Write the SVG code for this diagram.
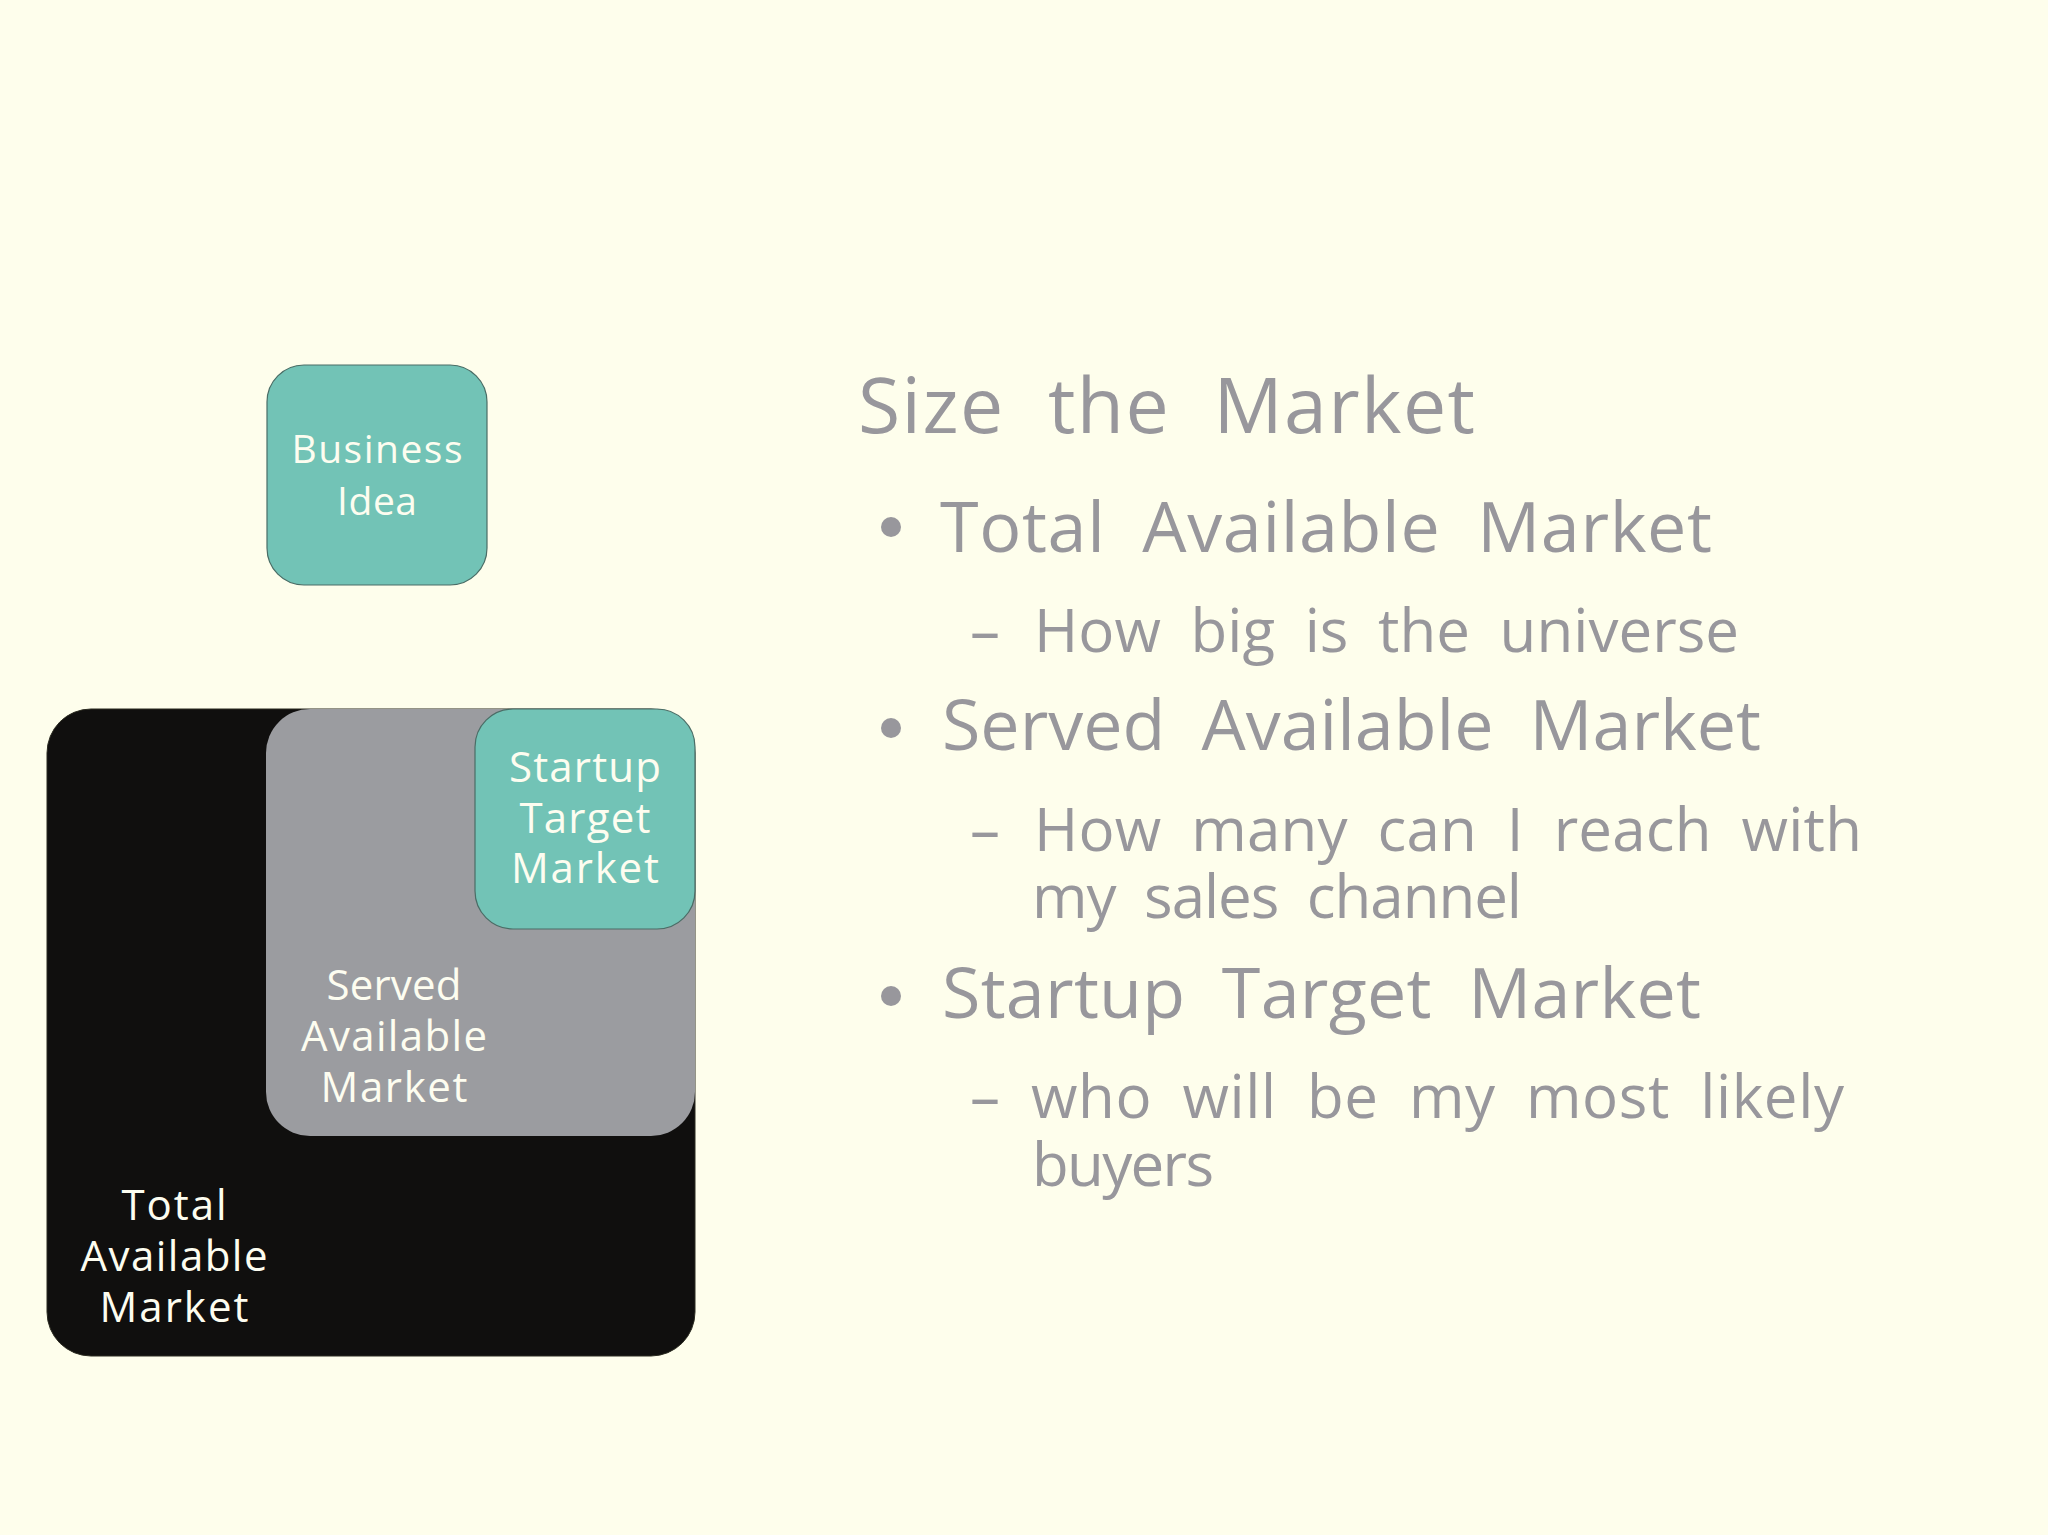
<svg xmlns="http://www.w3.org/2000/svg" width="2048" height="1535" viewBox="0 0 2048 1535">
<style>
.bg{fill:#fefeec}
.teal{fill:#72c3b6;stroke:#4a6d66;stroke-width:1.2}
.gray{fill:#9b9ca0}
.black{fill:#100f0e;stroke:#2a2a20;stroke-width:1}
.lbl{font-family:"Open Sans","Noto Sans","Liberation Sans",sans-serif;fill:#fdfdf0;text-anchor:middle}
.txt{font-family:"Open Sans","Noto Sans","Liberation Sans",sans-serif;fill:#98979c}
.t1{font-size:77px;word-spacing:22px}
.t2{font-size:70px;word-spacing:18px}
.t3{font-size:60px;word-spacing:14px}
.dot{fill:#98979c}
</style>
<rect class="bg" x="0" y="0" width="2048" height="1535"/>
<g id="business-idea">
<rect class="teal" x="267" y="365" width="220" height="220" rx="37"/>
<text class="lbl" font-size="39" x="377" y="463" textLength="171" lengthAdjust="spacing">Business</text>
<text class="lbl" font-size="39" x="377" y="515" textLength="80" lengthAdjust="spacing">Idea</text>
</g>
<g id="total-available-market">
<rect class="black" x="47" y="709" width="648" height="647" rx="44"/>
<text class="lbl" font-size="42" x="174" y="1220" textLength="105" lengthAdjust="spacing">Total</text>
<text class="lbl" font-size="42" x="174" y="1271" textLength="187" lengthAdjust="spacing">Available</text>
<text class="lbl" font-size="42" x="174" y="1322" textLength="149" lengthAdjust="spacing">Market</text>
</g>
<g id="served-available-market">
<rect class="gray" x="266" y="709" width="429" height="427" rx="44"/>
<text class="lbl" font-size="42" x="394" y="1000" textLength="135" lengthAdjust="spacing">Served</text>
<text class="lbl" font-size="42" x="394" y="1051" textLength="186" lengthAdjust="spacing">Available</text>
<text class="lbl" font-size="42" x="394" y="1102" textLength="147" lengthAdjust="spacing">Market</text>
</g>
<g id="startup-target-market">
<rect class="teal" x="475" y="709" width="220" height="220" rx="38"/>
<text class="lbl" font-size="42" x="585" y="782" textLength="152" lengthAdjust="spacing">Startup</text>
<text class="lbl" font-size="42" x="585" y="833" textLength="131" lengthAdjust="spacing">Target</text>
<text class="lbl" font-size="42" x="585" y="883" textLength="148" lengthAdjust="spacing">Market</text>
</g>
<g id="connectors"></g>
<g id="text-panel">
<text class="txt t1" x="858" y="433" textLength="617" lengthAdjust="spacing">Size the Market</text>
<circle class="dot" cx="891" cy="527" r="10"/>
<text class="txt t2" x="940" y="552" textLength="772" lengthAdjust="spacing">Total Available Market</text>
<text class="txt t3" x="970" y="652">–</text>
<text class="txt t3" x="1034" y="652" textLength="705" lengthAdjust="spacing">How big is the universe</text>
<circle class="dot" cx="891" cy="728" r="10"/>
<text class="txt t2" x="942" y="750" textLength="819" lengthAdjust="spacing">Served Available Market</text>
<text class="txt t3" x="970" y="851">–</text>
<text class="txt t3" x="1034" y="851" textLength="828" lengthAdjust="spacing">How many can I reach with</text>
<text class="txt t3" x="1032" y="918" textLength="490" lengthAdjust="spacing">my sales channel</text>
<circle class="dot" cx="891" cy="996" r="10"/>
<text class="txt t2" x="942" y="1018" textLength="759" lengthAdjust="spacing">Startup Target Market</text>
<text class="txt t3" x="970" y="1118">–</text>
<text class="txt t3" x="1031" y="1118" textLength="813" lengthAdjust="spacing">who will be my most likely</text>
<text class="txt t3" x="1032" y="1186" textLength="182" lengthAdjust="spacing">buyers</text>
</g>
</svg>
